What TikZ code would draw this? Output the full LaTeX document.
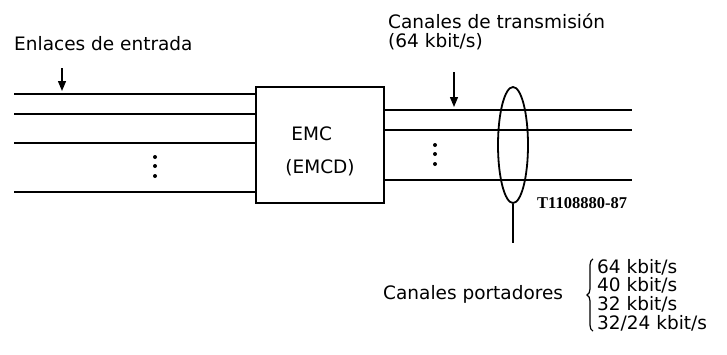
\documentclass[tikz,border=0pt]{standalone}
\usepackage{fontspec}
\setmainfont{DejaVu Sans}
\newfontfamily\codefont{Liberation Serif}
\usepackage{tikz}
\usetikzlibrary{arrows.meta}
\usetikzlibrary{shapes.geometric,positioning}
\usetikzlibrary{decorations.pathreplacing}
\tikzset{
    linkline/.style={
        line width=1.8pt,
        black
    },
    % flecha que señala un enlace
    feedarrow/.style={
        line width=1.3pt,
        black,
        -{Triangle[length=10pt, width=8pt]},
        shorten >=3pt
    },
    muxbox/.style={
        draw,
        line width=2.2pt,
        minimum width=128pt,
        minimum height=116pt,
        inner sep=0pt,
        align=left
    },
    bundleoval/.style={
        draw,
        ellipse,
        line width=1.8pt,
        minimum width=30pt,
        minimum height=116pt,
        inner sep=0pt
    },
    bigtext/.style={
        font=\fontsize{18.5}{18.7}\selectfont,
        inner sep=0pt
    }
}
\begin{document}
\begin{tikzpicture}[x=1pt,y=-1pt]
    \useasboundingbox (0,0) rectangle (727,354);

    \node[muxbox, bigtext] (emc) at (320,145) {\rule{0pt}{26pt}\hspace{6pt}EMC\\[14pt](EMCD)};

    \coordinate (in1) at (14,94);
    \coordinate (in2) at (14,114);
    \coordinate (in3) at (14,143);
    \coordinate (in4) at (14,192);
    \foreach \k in {1,...,4}
        \draw[linkline] (in\k) -- (in\k -| emc.west);

    \coordinate (out1) at (632,110);
    \coordinate (out2) at (632,130);
    \coordinate (out3) at (632,180);
    \foreach \k in {1,...,3}
        \draw[linkline] (out\k -| emc.east) -- (out\k);

    \node[bundleoval] (bundle) at (513,145) {};
    \coordinate (tail) at (513,243);
    \draw[line width=1.4pt] (bundle.south) -- (tail);

    \coordinate (arrIn) at (62,68);
    \coordinate (arrOut) at (454,72);
    \draw[feedarrow] (arrIn) -- (arrIn |- in1);
    \draw[feedarrow] (arrOut) -- (arrOut |- out1);

    \foreach \y in {157,166,176}
        \fill (155,\y) circle (2pt);
    \foreach \y in {145,154,164}
        \fill (435,\y) circle (2pt);

    \node[bigtext, anchor=base west] (entrada) at (14,50) {Enlaces de entrada};
    \node[bigtext, anchor=base west, align=left] (transm) at (388,47)
        {Canales de transmisión\\(64 kbit/s)};
    \node[anchor=base west, inner sep=0pt, font=\codefont\bfseries\fontsize{16.5}{18}\selectfont]
        (code) at (537,208) {T1108880-87};
    \node[bigtext, anchor=west] (portad) at (383,294) {Canales portadores};
    \node[bigtext, anchor=west, align=left] (rates) at (597,295)
        {64 kbit/s\\40 kbit/s\\32 kbit/s\\32/24 kbit/s};
    \draw[line width=1.2pt, decorate, decoration={brace, amplitude=6pt}]
        ([xshift=-4pt]rates.south west) -- ([xshift=-4pt]rates.north west);
\end{tikzpicture}
\end{document}
